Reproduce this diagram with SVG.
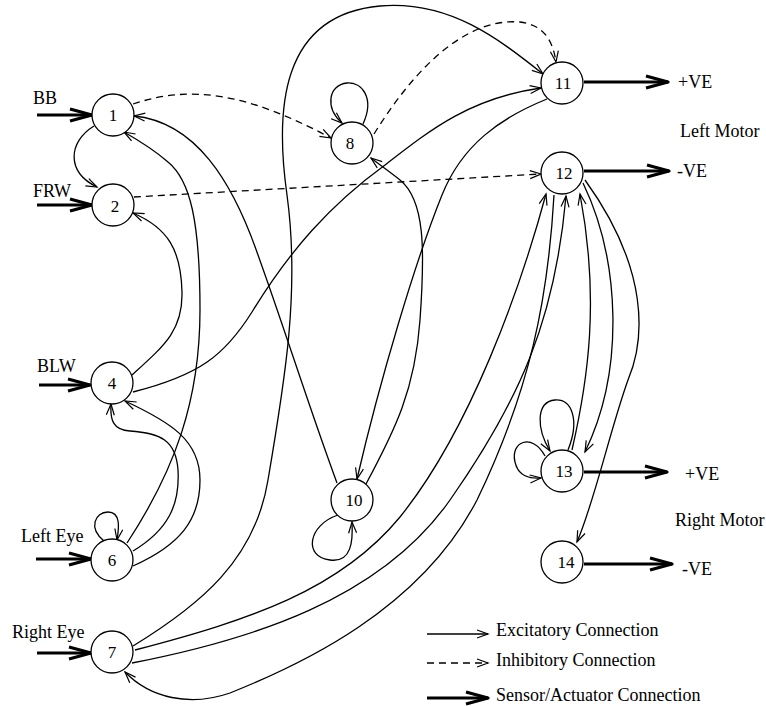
<svg xmlns="http://www.w3.org/2000/svg" width="766" height="706" viewBox="0 0 766 706">
<style>
.n circle{fill:#fff;stroke:#000;stroke-width:1.3}
.n text,.lbl{font-family:"Liberation Serif","Times New Roman",serif;fill:#000}
.n text{font-size:17px;text-anchor:middle}
.lbl{font-size:18px}
.e{fill:none;stroke:#000;stroke-width:1.3;marker-end:url(#ex)}
.i{fill:none;stroke:#000;stroke-width:1.3;stroke-dasharray:7,5;marker-end:url(#ex)}
.s{fill:none;stroke:#000;stroke-width:3.2;marker-end:url(#sa)}
</style>
<defs>
<marker id="ex" markerUnits="userSpaceOnUse" markerWidth="14" markerHeight="10" refX="12" refY="5" orient="auto"><path d="M1,1 L12,5 L1,9" fill="none" stroke="#000" stroke-width="1.2"/></marker>
<marker id="sa" markerUnits="userSpaceOnUse" markerWidth="28" markerHeight="18" refX="24" refY="9" orient="auto"><path d="M2,3 L24,9 L2,15" fill="none" stroke="#000" stroke-width="3.2" stroke-linejoin="round"/></marker>
</defs>
<rect width="766" height="706" fill="#fff"/>
<g id="connectors">
<path class="e" d="M94,126 C 68,142 66,172 97,187"/>
<path class="i" d="M133,104 C 190,85 245,92 331,138"/>
<path class="i" d="M134,197 Q 330,186 541,174"/>
<path class="e" d="M132,375 C 165,345 183,330 182,292 C 181,250 168,228 133,213"/>
<path class="e" d="M133,392 C 200,375 225,355 252,312 C 290,250 330,205 385,165 C 430,130 470,98 541,88"/>
<path class="e" d="M133,551 C 168,530 180,505 178,470 C 176,440 160,433 130,431 C 113,430 110,420 111,404"/>
<path class="e" d="M133,566 C 180,545 200,520 200,480 C 200,440 170,422 125,401"/>
<path class="e" d="M127,543 C 175,470 200,400 200,310 C 200,220 190,180 168,162 C 152,148 138,140 124,132"/>
<path class="e" d="M337,483 C 310,410 285,330 258,255 C 232,180 195,122 134,116"/>
<path class="e" d="M133,646 C 200,605 255,560 268,480 C 285,380 300,290 287,195 C 275,110 280,15 380,6 C 450,0 500,40 543,74"/>
<path class="i" d="M374,134 C 420,60 470,18 520,22 C 545,25 553,42 556,62"/>
<path class="e" d="M363,124 C 375,98 362,82 347,83 C 328,85 325,108 342,123"/>
<path class="e" d="M547,99 C 500,118 462,145 442,195 C 415,262 380,380 357,479"/>
<path class="e" d="M366,484 C 395,430 415,390 420,320 C 425,250 425,200 400,180 C 390,172 380,165 371,158"/>
<path class="e" d="M338,515 C 308,525 303,557 330,560 C 352,563 353,540 352,522"/>
<path class="e" d="M135,650 C 250,620 340,590 400,517 C 470,430 520,290 546,194"/>
<path class="e" d="M132,663 C 250,640 380,600 450,500 C 520,400 555,320 566,196"/>
<path class="e" d="M554,195 C 548,300 530,390 477,500 C 420,610 300,665 230,693 C 190,707 150,698 125,672"/>
<path class="e" d="M572,450 C 588,380 600,300 580,194"/>
<path class="e" d="M583,183 C 620,260 625,370 585,452"/>
<path class="e" d="M585,180 C 650,270 645,340 628,380 C 610,430 595,500 577,542"/>
<path class="e" d="M568,450 C 580,420 572,399 555,400 C 535,402 537,430 550,451"/>
<path class="e" d="M545,456 C 532,432 510,442 515,462 C 518,476 530,479 541,478"/>
<path class="e" d="M104,541 C 88,528 95,512 108,512 C 121,512 119,528 117,540"/>
<path class="s" d="M37,115 L92,115"/>
<path class="s" d="M37,205 L92,205"/>
<path class="s" d="M39,385 L90,385"/>
<path class="s" d="M36,559 L91,559"/>
<path class="s" d="M37,653 L91,653"/>
<path class="s" d="M584,82 L668,82"/>
<path class="s" d="M584,171 L669,171"/>
<path class="s" d="M584,472 L667,472"/>
<path class="s" d="M584,564 L672,564"/>
</g>
<g id="legend">
<path class="e" d="M427,634 L488,634"/>
<path class="i" d="M427,663 L488,663"/>
<path class="s" d="M427,698 L488,698"/>
<text class="lbl" x="496" y="636">Excitatory Connection</text>
<text class="lbl" x="496" y="666">Inhibitory Connection</text>
<text class="lbl" x="496" y="701">Sensor/Actuator Connection</text>
</g>
<g id="labels">
<text class="lbl" x="33" y="104">BB</text>
<text class="lbl" x="33" y="197">FRW</text>
<text class="lbl" x="37" y="372">BLW</text>
<text class="lbl" x="21" y="542">Left Eye</text>
<text class="lbl" x="12" y="638">Right Eye</text>
<text class="lbl" x="678" y="88">+VE</text>
<text class="lbl" x="680" y="137">Left Motor</text>
<text class="lbl" x="677" y="177">-VE</text>
<text class="lbl" x="685" y="480">+VE</text>
<text class="lbl" x="675" y="526">Right Motor</text>
<text class="lbl" x="682" y="575">-VE</text>
</g>
<g id="node1" class="n"><circle cx="113" cy="115" r="21"/><text x="113" y="121">1</text></g>
<g id="node2" class="n"><circle cx="113" cy="205" r="21"/><text x="115" y="212">2</text></g>
<g id="node4" class="n"><circle cx="112" cy="383" r="21"/><text x="112" y="389">4</text></g>
<g id="node6" class="n"><circle cx="112" cy="560" r="21"/><text x="112" y="566">6</text></g>
<g id="node7" class="n"><circle cx="112" cy="652" r="21"/><text x="112" y="658">7</text></g>
<g id="node8" class="n"><circle cx="352" cy="143" r="21"/><text x="350" y="149">8</text></g>
<g id="node10" class="n"><circle cx="352" cy="500" r="21"/><text x="354" y="506">10</text></g>
<g id="node11" class="n"><circle cx="562" cy="83" r="21"/><text x="563" y="89">11</text></g>
<g id="node12" class="n"><circle cx="562" cy="173" r="21"/><text x="564" y="179">12</text></g>
<g id="node13" class="n"><circle cx="562" cy="471" r="21"/><text x="564" y="477">13</text></g>
<g id="node14" class="n"><circle cx="562" cy="562" r="21"/><text x="566" y="568">14</text></g>
</svg>
